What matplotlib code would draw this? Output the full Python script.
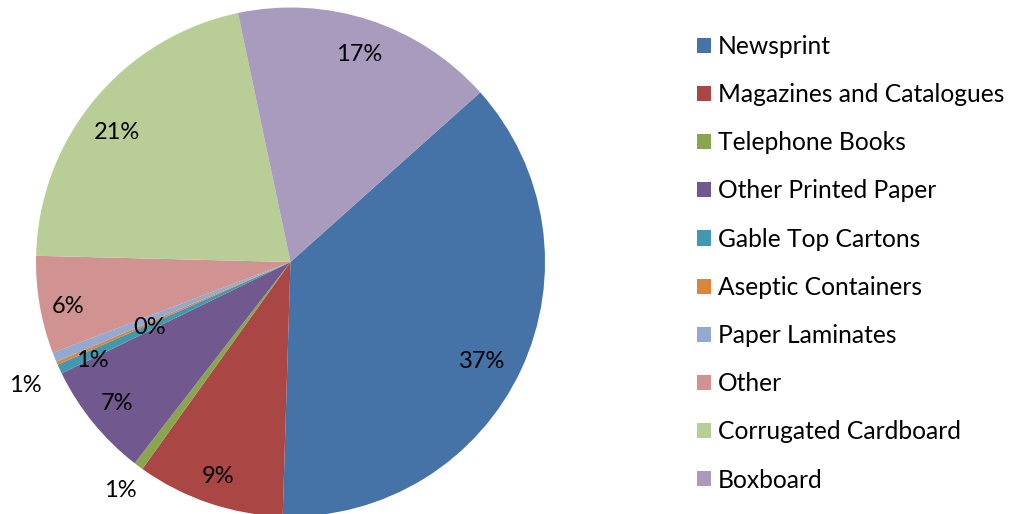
import numpy as np
import matplotlib.pyplot as plt

plt.rcParams['font.family'] = ['Lato', 'DejaVu Sans']

# --- data ---
categories = ['Newsprint', 'Magazines and Catalogues', 'Telephone Books',
              'Other Printed Paper', 'Gable Top Cartons', 'Aseptic Containers',
              'Paper Laminates', 'Other', 'Corrugated Cardboard', 'Boxboard']
shares = [37.1, 9.4, 0.6, 7.3, 0.6, 0.2, 0.6, 6.2, 21.3, 16.7]
colors = ['#4572A7', '#AA4643', '#89A54E', '#71588F', '#4198AF',
          '#DB843D', '#93A9CF', '#D19392', '#B9CD96', '#A99BBD']

# label placement: radius (fraction of pie radius) and angle nudge in degrees
label_r = [0.85, 0.89, 1.12, 0.88, 1.15, 0.61, 0.87, 0.89, 0.85, 0.86]
label_nudge = [-2.5, 0, 0, 0, 0, 1.5, 4.5, 1.5, 3.0, 0]

fig = plt.figure(figsize=(10.11, 5.14), dpi=100)
ax = fig.add_axes([36 / 1011, -2.5 / 514, 509 / 1011, 509 / 514])

wedges, _ = ax.pie(shares, colors=colors, startangle=41.8, counterclock=False,
                   wedgeprops=dict(linewidth=0))
ax.set_xlim(-1, 1)
ax.set_ylim(-1, 1)
ax.set_aspect('equal')
ax.axis('off')

total = sum(shares)
for w, v, r, nd in zip(wedges, shares, label_r, label_nudge):
    mid = np.deg2rad((w.theta1 + w.theta2) / 2 + nd)
    pct = v / total * 100
    ax.text(r * np.cos(mid), r * np.sin(mid), f"{pct:.0f}%",
            ha='center', va='center', fontsize=17, color='black', clip_on=False)

leg = fig.legend(wedges, categories, loc='upper left',
                 bbox_to_anchor=(687 / 1011, 1 - 25 / 514),
                 frameon=False, fontsize=17.7, handlelength=0.57, handleheight=0.57,
                 handletextpad=0.3, labelspacing=1.025, borderaxespad=0)

fig.savefig('out.png', dpi=100)
